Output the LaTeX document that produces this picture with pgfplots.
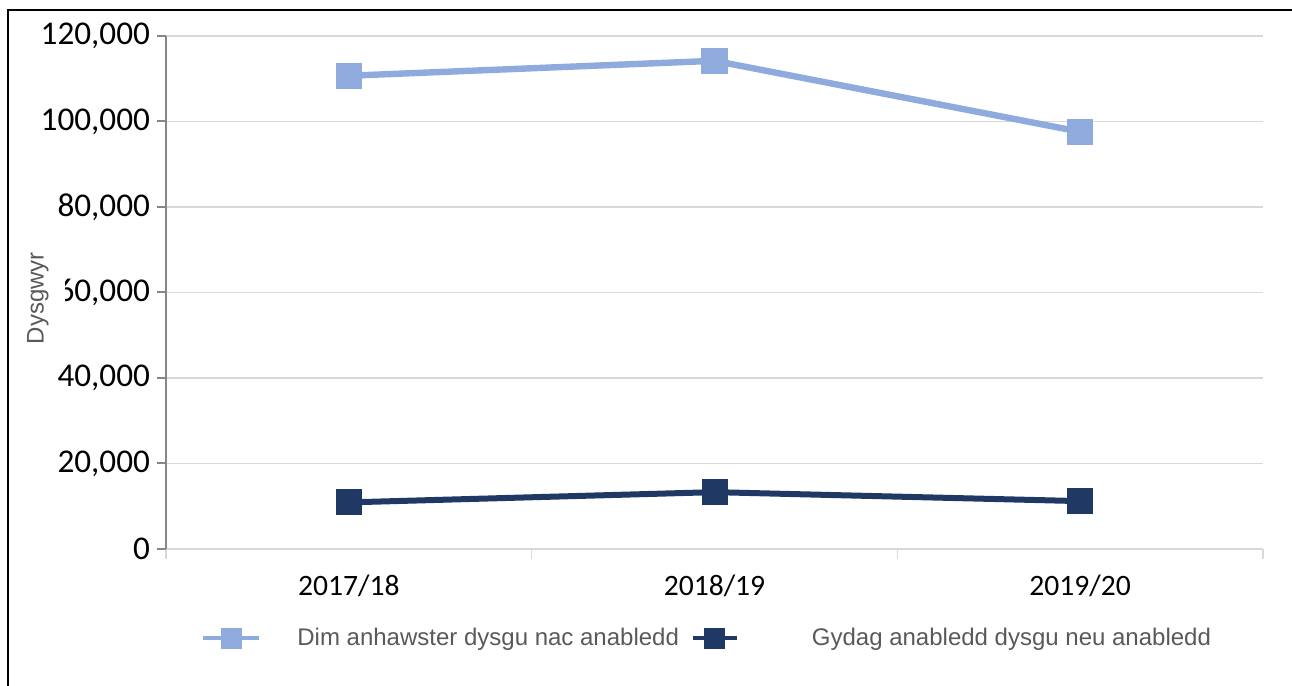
\documentclass[border=0pt]{standalone}
\usepackage{fontspec}
\setmainfont{Carlito}
\newfontfamily\arial{Liberation Sans}
\usepackage{pgfplots}
\pgfplotsset{compat=1.18}
\definecolor{lightser}{HTML}{8FAADC}
\definecolor{darkser}{HTML}{203864}
\definecolor{gridc}{HTML}{D9D9D9}
\definecolor{axisc}{HTML}{868686}
\definecolor{legtext}{HTML}{595959}
\pgfplotsset{
  legimgA/.style={legend image code/.code={\draw[mark repeat=2,mark phase=2,##1,line width=2pt,mark size=4.25pt]
    plot coordinates {(0pt,0pt) (14pt,0pt) (28pt,0pt)};}},
  legimgB/.style={legend image code/.code={\draw[mark repeat=2,mark phase=2,##1,line width=2pt,mark size=4.25pt]
    plot coordinates {(0pt,0pt) (11pt,0pt) (22pt,0pt)}; \path (40pt,0pt);}},
}

\begin{document}
\begin{tikzpicture}[x=1pt,y=1pt]
\path[use as bounding box] (0,0) rectangle (646,343);
\clip (0,0) rectangle (646,343);
\draw[line width=0.9pt] (4,-10) rectangle (660,338);
\begin{axis}[
  at={(83pt,68.5pt)}, anchor=south west,
  width=548.5pt, height=256.5pt, scale only axis,
  xmin=-0.5, xmax=2.5, ymin=0, ymax=120000,
  axis lines*=left,
  x axis line style={gridc, line width=0.75pt},
  y axis line style={axisc, line width=1pt},
  xtick={0,1,2}, xticklabels={2017/18,2018/19,2019/20},
  major x tick style={draw=none},
  minor xtick={-0.5,0.5,1.5,2.5},
  minor x tick style={gridc, line width=0.75pt},
  minor tick length=5pt,
  tick align=outside,
  ytick={0,20000,40000,60000,80000,100000,120000},
  major y tick style={axisc, line width=1pt},
  major tick length=4.5pt,
  ymajorgrids, major grid style={gridc, line width=0.75pt},
  scaled y ticks=false,
  xticklabel style={font=\fontsize{14.8}{16}\selectfont, text=black, yshift=-5pt},
  yticklabel style={font=\fontsize{16.6}{19}\selectfont, text=black},
  /pgf/number format/assume math mode=true,
  yticklabel style={/pgf/number format/.cd, fixed, 1000 sep={,}},
  ylabel={Dysgwyr},
  ylabel style={at={(axis description cs:-0.1167,0.489)}, anchor=center,
    font=\arial\fontsize{12}{14}\selectfont, text=legtext, fill=white, inner ysep=8pt},
  legend columns=2,
  legend cell align=left,
  legend style={at={(axis description cs:0.0319,-0.1735)}, anchor=west,
    draw=none, fill=none, inner sep=0pt,
    font=\arial\fontsize{12}{14}\selectfont, text=legtext,
    /tikz/every odd column/.append style={column sep=16pt},
    /tikz/every even column/.append style={column sep=4pt}},
  legimgA,
]
\addplot[lightser, line width=3.2pt, mark=square*, mark size=5pt,
  mark options={draw=none, fill=lightser}]
  coordinates {(0,110700) (1,114200) (2,97600)};
\addlegendentry{Dim anhawster dysgu nac anabledd}
\addplot[darkser, line width=3pt, mark=square*, mark size=5pt,
  mark options={draw=none, fill=darkser}, legimgB]
  coordinates {(0,10900) (1,13300) (2,11200)};
\addlegendentry{Gydag anabledd dysgu neu anabledd}
\end{axis}
\end{tikzpicture}
\end{document}
